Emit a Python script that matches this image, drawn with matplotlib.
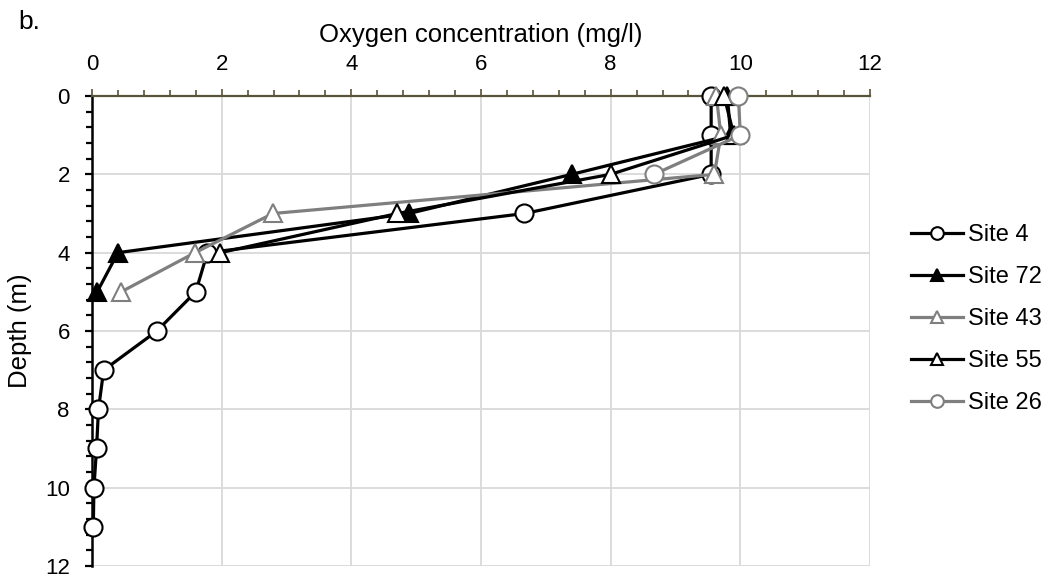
import matplotlib
matplotlib.use("Agg")
import matplotlib.pyplot as plt
from matplotlib.ticker import MultipleLocator

plt.rcParams['font.family'] = ['Liberation Sans', 'DejaVu Sans']

depth_4 = [0, 1, 2, 3, 4, 5, 6, 7, 8, 9, 10, 11]
oxy_4 = [9.55, 9.55, 9.55, 6.67, 1.78, 1.6, 1.0, 0.18, 0.1, 0.07, 0.03, 0.02]

depth_72 = [0, 1, 2, 3, 4, 5]
oxy_72 = [9.8, 9.85, 7.4, 4.89, 0.4, 0.08]

depth_43 = [0, 1, 2, 3, 4, 5]
oxy_43 = [9.63, 9.7, 9.6, 2.79, 1.59, 0.45]

depth_55 = [0, 1, 2, 3, 4]
oxy_55 = [9.75, 9.9, 8.0, 4.71, 1.98]

depth_26 = [0, 1, 2]
oxy_26 = [9.97, 10.0, 8.67]

series = [
    ("Site 4", oxy_4, depth_4, 'black', 'o', 'white', 'black'),
    ("Site 72", oxy_72, depth_72, 'black', '^', 'black', 'black'),
    ("Site 43", oxy_43, depth_43, '#7f7f7f', '^', 'white', '#7f7f7f'),
    ("Site 55", oxy_55, depth_55, 'black', '^', 'white', 'black'),
    ("Site 26", oxy_26, depth_26, '#7f7f7f', 'o', 'white', '#7f7f7f'),
]

fig = plt.figure(figsize=(10.48, 5.81), dpi=100)
ax = fig.add_axes([92/1048, 1-566/581, (870-92)/1048, (566-96)/581])

for name, x, y, lc, m, mfc, mec in series:
    ax.plot(x, y, color=lc, lw=2.3, marker=m, markersize=13,
            markerfacecolor=mfc, markeredgecolor=mec, markeredgewidth=1.5,
            label=name, zorder=3, clip_on=False)

ax.set_xlim(0, 12)
ax.set_ylim(12, 0)
ax.xaxis.set_major_locator(MultipleLocator(2))
ax.xaxis.set_minor_locator(MultipleLocator(0.4))
ax.yaxis.set_major_locator(MultipleLocator(2))
ax.yaxis.set_minor_locator(MultipleLocator(0.4))
ax.xaxis.tick_top()
ax.xaxis.set_label_position('top')

olive = '#595339'
ax.spines['right'].set_visible(False)
ax.spines['bottom'].set_visible(False)
ax.spines['top'].set_color(olive)
ax.spines['top'].set_linewidth(1.6)
ax.spines['left'].set_color('black')
ax.spines['left'].set_linewidth(1.8)

ax.tick_params(axis='x', which='both', direction='out', colors=olive, labelcolor='black',
               labelsize=16, pad=10, width=1.2)
ax.tick_params(axis='x', which='major', length=5)
ax.tick_params(axis='x', which='minor', length=4)
ax.tick_params(axis='y', which='both', direction='out', colors='black', labelsize=16,
               width=1.6, pad=11)
ax.tick_params(axis='y', which='major', length=5)
ax.tick_params(axis='y', which='minor', length=4)

ax.grid(True, which='major', color='#d9d9d9', lw=1.3, zorder=0)
ax.set_axisbelow(True)

ax.set_xlabel("Oxygen concentration (mg/l)", fontsize=18.5, labelpad=9)
ax.set_ylabel("Depth (m)", fontsize=18.5, labelpad=9)

leg = ax.legend(loc='center left', bbox_to_anchor=(1.041, 0.525), frameon=False,
                fontsize=17, handlelength=2.2, labelspacing=0.85, handletextpad=0.2,
                markerscale=0.7, borderaxespad=0)

fig.text(18/1048, 1-22/581, "b.", fontsize=19, va='center', ha='left')

fig.savefig("out.png", dpi=100)
